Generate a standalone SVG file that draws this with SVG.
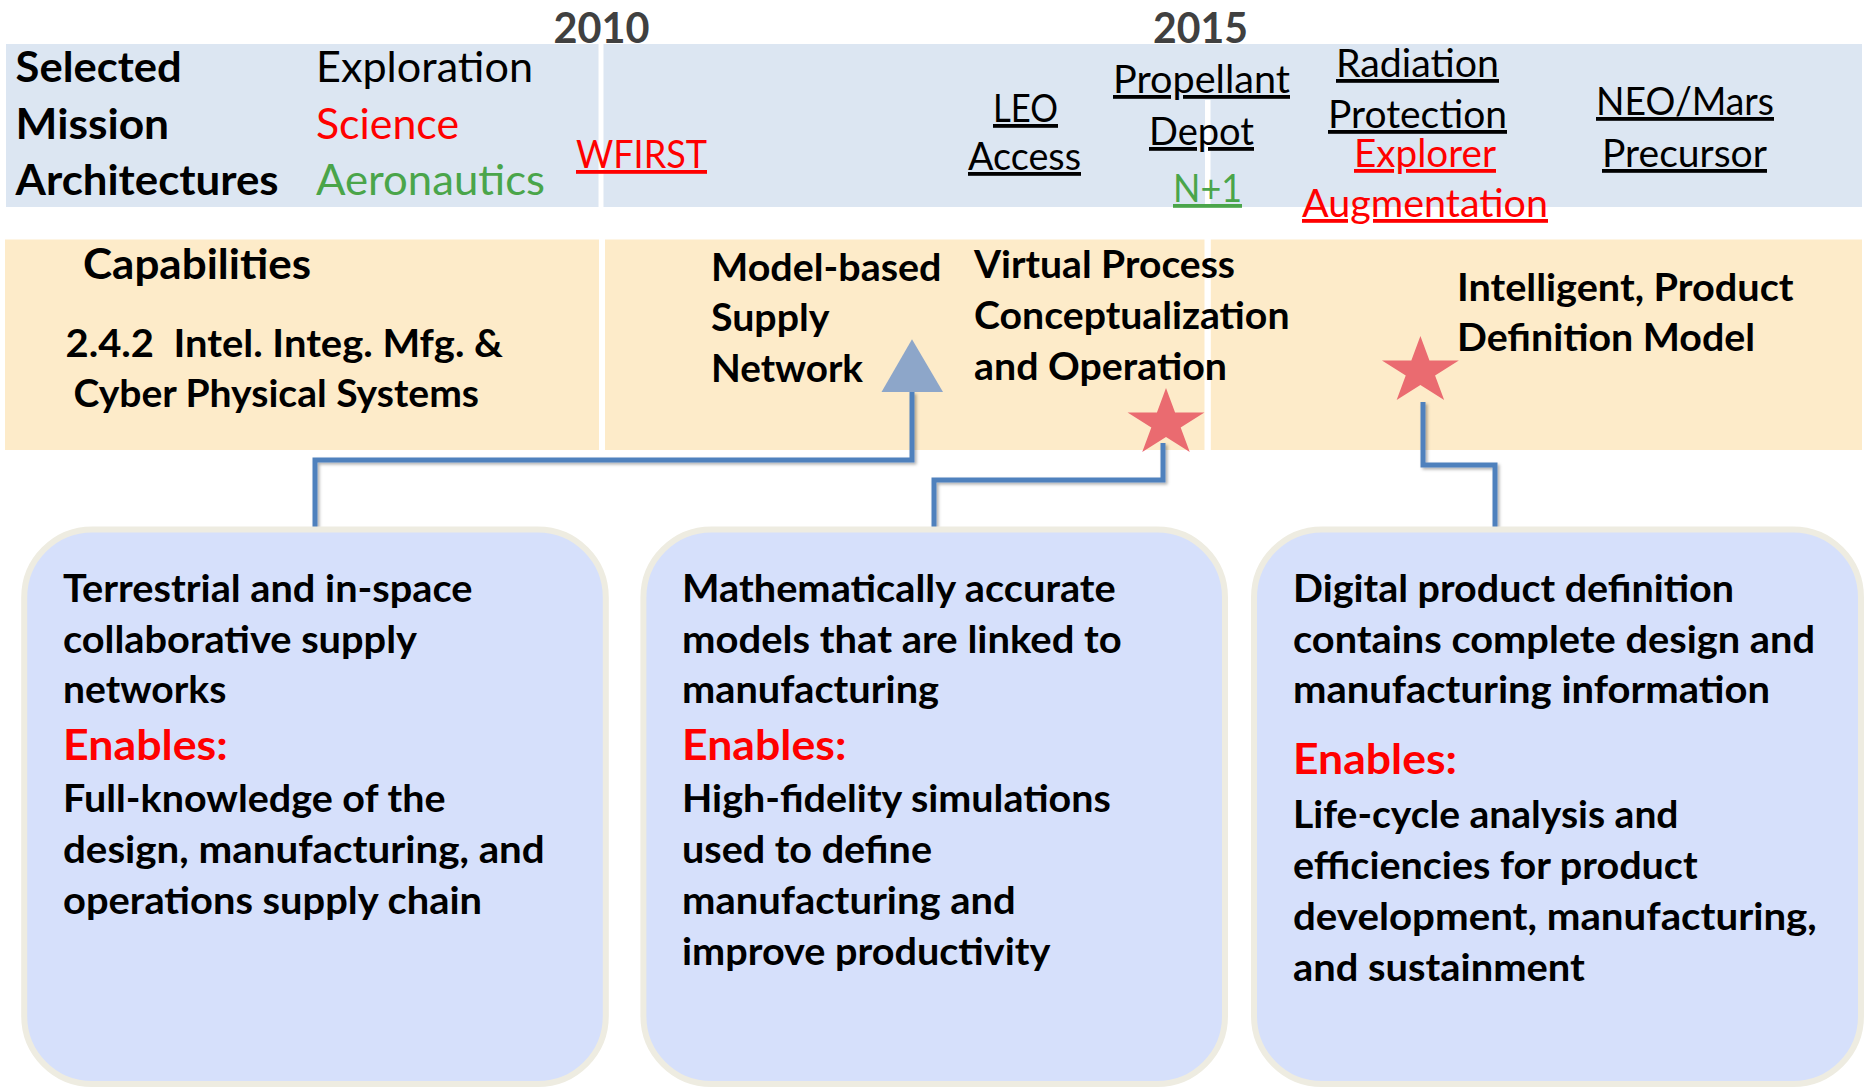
<svg xmlns="http://www.w3.org/2000/svg" width="1865" height="1089" viewBox="0 0 1865 1089">
  <defs>
    <style>
      text { font-family: Lato, "Open Sans", "DejaVu Sans", sans-serif; fill: #000; }
      .b { font-weight: 700; }
      .big { font-size: 42px; }
      .sm { font-size: 38px; }
      .red { fill: #FF0000; }
      .grn { fill: #4AA54A; }
      .yr { fill: #404040; font-weight: 700; font-size: 42px; }
      .u { text-decoration: underline; }
      .band1 { fill: #DCE6F2; }
      .band2 { fill: #FDEBC9; }
      .sep { fill: #FFFFFF; }
      .box { fill: #D6E0FB; stroke: #EEECE1; stroke-width: 6; }
      .conn { fill: none; stroke: #4F81BD; stroke-width: 5; stroke-linejoin: miter; }
      .star { fill: #EA6B70; }
      .tri { fill: #8DA6C9; }
    </style>
    <filter id="lineShadow" filterUnits="userSpaceOnUse" x="0" y="300" width="1865" height="300">
      <feDropShadow dx="2" dy="2" stdDeviation="1.5" flood-color="#000" flood-opacity="0.3"/>
    </filter>
    <polygon id="starShape" points="0,-1 0.2245,-0.309 0.9511,-0.309 0.3633,0.118 0.5878,0.809 0,0.382 -0.5878,0.809 -0.3633,0.118 -0.9511,-0.309 -0.2245,-0.309"/>
  </defs>

  <!-- timeline year markers -->
  <g id="years">
    <text class="yr" x="553.5" y="43" textLength="96" lengthAdjust="spacingAndGlyphs">2010</text>
    <text class="yr" x="1153" y="43" textLength="95" lengthAdjust="spacingAndGlyphs">2015</text>
  </g>

  <!-- mission architectures band -->
  <g id="missions-band">
    <rect class="band1" x="6" y="44" width="592.5" height="163"/>
    <rect class="band1" x="603.5" y="44" width="1258.5" height="163"/>
    <rect class="sep" x="1205" y="100" width="5.5" height="107"/>
  </g>

  <g id="missions-legend">
    <text class="b big" x="15.6" y="82" textLength="166" lengthAdjust="spacingAndGlyphs">Selected</text>
    <text class="b big" x="15.6" y="139" textLength="153.5" lengthAdjust="spacingAndGlyphs">Mission</text>
    <text class="b big" x="15.6" y="195" textLength="263" lengthAdjust="spacingAndGlyphs">Architectures</text>
    <text class="big" x="316" y="82" textLength="217" lengthAdjust="spacingAndGlyphs">Exploration</text>
    <text class="big red" x="316" y="139" textLength="143" lengthAdjust="spacingAndGlyphs">Science</text>
    <text class="big grn" x="316" y="195" textLength="229" lengthAdjust="spacingAndGlyphs">Aeronautics</text>
  </g>

  <g id="mission-wfirst">
    <text class="sm red u" x="576" y="168" textLength="131" lengthAdjust="spacingAndGlyphs">WFIRST</text>
  </g>
  <g id="mission-leo">
    <text class="sm u" x="993" y="122" textLength="65" lengthAdjust="spacingAndGlyphs">LEO</text>
    <text class="sm u" x="968" y="170" textLength="113" lengthAdjust="spacingAndGlyphs">Access</text>
  </g>
  <g id="mission-depot">
    <text class="sm u" x="1113" y="93" textLength="177" lengthAdjust="spacingAndGlyphs">Propellant</text>
    <text class="sm u" x="1149" y="145" textLength="105" lengthAdjust="spacingAndGlyphs">Depot</text>
  </g>
  <g id="mission-n1">
    <text class="sm grn u" x="1173" y="202" textLength="69" lengthAdjust="spacingAndGlyphs">N+1</text>
  </g>
  <g id="mission-radiation">
    <text class="sm u" x="1336" y="77" textLength="163" lengthAdjust="spacingAndGlyphs">Radiation</text>
    <text class="sm u" x="1328" y="128" textLength="179" lengthAdjust="spacingAndGlyphs">Protection</text>
  </g>
  <g id="mission-explorer">
    <text class="sm red u" x="1354" y="167" textLength="142" lengthAdjust="spacingAndGlyphs">Explorer</text>
    <text class="sm red u" x="1302" y="217" textLength="246" lengthAdjust="spacingAndGlyphs">Augmentation</text>
  </g>
  <g id="mission-neo">
    <text class="sm u" x="1596" y="115" textLength="178" lengthAdjust="spacingAndGlyphs">NEO/Mars</text>
    <text class="sm u" x="1602" y="167" textLength="165" lengthAdjust="spacingAndGlyphs">Precursor</text>
  </g>

  <!-- capabilities band -->
  <g id="capabilities-band">
    <rect class="band2" x="5" y="239.5" width="594" height="210.5"/>
    <rect class="band2" x="605" y="239.5" width="599.5" height="210.5"/>
    <rect class="band2" x="1210.8" y="239.5" width="651.2" height="210.5"/>
  </g>

  <g id="capabilities-title">
    <text class="b big" x="83" y="279" textLength="228" lengthAdjust="spacingAndGlyphs">Capabilities</text>
    <text class="b sm" x="65.5" y="357" textLength="437.5" lengthAdjust="spacingAndGlyphs">2.4.2&#160; Intel. Integ. Mfg. &amp;</text>
    <text class="b sm" x="73.5" y="407" textLength="405.5" lengthAdjust="spacingAndGlyphs">Cyber Physical Systems</text>
  </g>

  <!-- connectors -->
  <g id="connectors" filter="url(#lineShadow)">
    <path class="conn" d="M315,527 V460 H912 V392"/>
    <path class="conn" d="M934,527 V480 H1163 V443"/>
    <path class="conn" d="M1495,527 V465 H1423 V402"/>
  </g>

  <g id="cap-supply-network">
    <text class="b sm" x="711" y="280.5" textLength="230.5" lengthAdjust="spacingAndGlyphs">Model-based</text>
    <text class="b sm" x="711" y="331" textLength="118.5" lengthAdjust="spacingAndGlyphs">Supply</text>
    <text class="b sm" x="711" y="381.5" textLength="152" lengthAdjust="spacingAndGlyphs">Network</text>
    <polygon class="tri" points="912,339.3 943,392 881.5,392"/>
  </g>

  <g id="cap-virtual-process">
    <text class="b sm" x="974" y="278" textLength="261" lengthAdjust="spacingAndGlyphs">Virtual Process</text>
    <text class="b sm" x="974" y="329" textLength="315.5" lengthAdjust="spacingAndGlyphs">Conceptualization</text>
    <text class="b sm" x="974" y="380" textLength="253" lengthAdjust="spacingAndGlyphs">and Operation</text>
    <use href="#starShape" class="star" transform="translate(1166,423.4) scale(40.4,35.4)"/>
  </g>

  <g id="cap-product-model">
    <text class="b sm" x="1457" y="300.7" textLength="336.6" lengthAdjust="spacingAndGlyphs">Intelligent, Product</text>
    <text class="b sm" x="1457" y="350.7" textLength="298" lengthAdjust="spacingAndGlyphs">Definition Model</text>
    <use href="#starShape" class="star" transform="translate(1420.4,371.4) scale(40.4,35.4)"/>
  </g>

  <!-- description boxes -->
  <g id="box-supply">
    <rect class="box" x="24.2" y="529.5" width="581.6" height="554.5" rx="68" ry="68"/>
    <text class="b sm" x="63" y="601.7" textLength="409.5" lengthAdjust="spacingAndGlyphs">Terrestrial and in-space</text>
    <text class="b sm" x="63" y="652.5" textLength="354" lengthAdjust="spacingAndGlyphs">collaborative supply</text>
    <text class="b sm" x="63" y="703" textLength="163.4" lengthAdjust="spacingAndGlyphs">networks</text>
    <text class="b big red" x="63" y="760" textLength="164.7" lengthAdjust="spacingAndGlyphs">Enables:</text>
    <text class="b sm" x="63" y="812" textLength="382.5" lengthAdjust="spacingAndGlyphs">Full-knowledge of the</text>
    <text class="b sm" x="63" y="863" textLength="481.7" lengthAdjust="spacingAndGlyphs">design, manufacturing, and</text>
    <text class="b sm" x="63" y="914" textLength="419" lengthAdjust="spacingAndGlyphs">operations supply chain</text>
  </g>

  <g id="box-virtual">
    <rect class="box" x="643.4" y="529.5" width="581.6" height="554.5" rx="68" ry="68"/>
    <text class="b sm" x="682" y="601.7" textLength="433.7" lengthAdjust="spacingAndGlyphs">Mathematically accurate</text>
    <text class="b sm" x="682" y="652.5" textLength="439.8" lengthAdjust="spacingAndGlyphs">models that are linked to</text>
    <text class="b sm" x="682" y="703" textLength="257" lengthAdjust="spacingAndGlyphs">manufacturing</text>
    <text class="b big red" x="682" y="760" textLength="164.4" lengthAdjust="spacingAndGlyphs">Enables:</text>
    <text class="b sm" x="682" y="812" textLength="428.8" lengthAdjust="spacingAndGlyphs">High-fidelity simulations</text>
    <text class="b sm" x="682" y="863" textLength="250" lengthAdjust="spacingAndGlyphs">used to define</text>
    <text class="b sm" x="682" y="914" textLength="333.8" lengthAdjust="spacingAndGlyphs">manufacturing and</text>
    <text class="b sm" x="682" y="964.7" textLength="368.4" lengthAdjust="spacingAndGlyphs">improve productivity</text>
  </g>

  <g id="box-product">
    <rect class="box" x="1254" y="529.5" width="607" height="554.5" rx="68" ry="68"/>
    <text class="b sm" x="1293" y="601.7" textLength="441" lengthAdjust="spacingAndGlyphs">Digital product definition</text>
    <text class="b sm" x="1293" y="652.5" textLength="522" lengthAdjust="spacingAndGlyphs">contains complete design and</text>
    <text class="b sm" x="1293" y="703" textLength="477" lengthAdjust="spacingAndGlyphs">manufacturing information</text>
    <text class="b big red" x="1293" y="774" textLength="164" lengthAdjust="spacingAndGlyphs">Enables:</text>
    <text class="b sm" x="1293" y="827.8" textLength="385.5" lengthAdjust="spacingAndGlyphs">Life-cycle analysis and</text>
    <text class="b sm" x="1293" y="878.6" textLength="404.6" lengthAdjust="spacingAndGlyphs">efficiencies for product</text>
    <text class="b sm" x="1293" y="930" textLength="523.8" lengthAdjust="spacingAndGlyphs">development, manufacturing,</text>
    <text class="b sm" x="1293" y="981" textLength="291.8" lengthAdjust="spacingAndGlyphs">and sustainment</text>
  </g>
</svg>
